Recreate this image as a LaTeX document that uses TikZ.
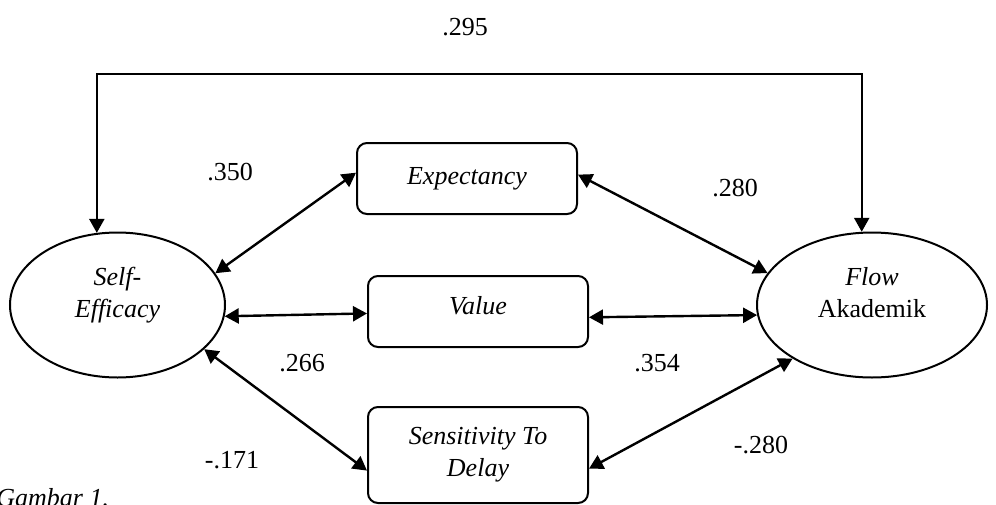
\documentclass[tikz,border=0pt]{standalone}
\usepackage{fontspec}
\setmainfont{Liberation Serif}
\usetikzlibrary{shapes.geometric,arrows.meta}
\begin{document}
\begin{tikzpicture}[x=0.5pt,y=-0.5pt,
  font=\fontsize{13}{16}\selectfont,
  >={Triangle[length=7pt,width=7.5pt]},
  lat/.style={ellipse, draw, line width=1pt, inner sep=0pt},
  obs/.style={rectangle, rounded corners=5pt, draw, line width=1pt,
    minimum width=110pt, minimum height=35.5pt, align=center, inner sep=0pt},
  conn/.style={line width=1.2pt, <->},
  coef/.style={inner sep=0pt}]
\useasboundingbox (0,0) rectangle (996,504);
\fill[white] (0,0) rectangle (996,504);

% latent variables
\node[lat, minimum width=107.5pt, minimum height=72.5pt] (se) at (117.5,305) {};
\node[lat, minimum width=115pt, minimum height=72.5pt] (fl) at (872,305) {};
\node[align=center, inner sep=0pt] (seT) at (117.5,295) {\textit{Self-}\\\textit{Efficacy}};
\node[align=center, inner sep=0pt] (flT) at (872,293) {\textit{Flow}\\Akademik};

% mediators
\node[obs] (ex) at (467,178.5) {\textit{Expectancy}};
\node[obs, text depth=6pt] (va) at (478,311.5) {\textit{Value}};
\node[obs, minimum height=48pt] (sd) at (478,455) {\textit{Sensitivity To}\\\textit{Delay}};

% connectors
\draw[conn] (se.18) -- (ex.177);
\draw[conn] (se.-6) -- (va.181);
\draw[conn] (se.-27) -- (sd.188);
\draw[conn] (ex.2) -- (fl.163);
\draw[conn] (va.-3.5) -- (fl.185);
\draw[conn] (sd.-7) -- (fl.214);
\coordinate (topy) at (0,74);
\draw[conn] (se.106) -- (se.106 |- topy) -- (fl.98 |- topy) -- (fl.98);

% coefficients
\node[coef] (c1) at (465,27) {.295};
\node[coef] (c2) at (230,172) {.350};
\node[coef] (c3) at (735,188) {.280};
\node[coef] (c4) at (302,363) {.266};
\node[coef] (c5) at (657,363) {.354};
\node[coef] (c6) at (232,460) {-.171};
\node[coef] (c7) at (761,445) {-.280};

\node[anchor=base west, inner sep=0pt] (cap) at (-4,506) {\textit{Gambar 1.}};
\end{tikzpicture}
\end{document}
